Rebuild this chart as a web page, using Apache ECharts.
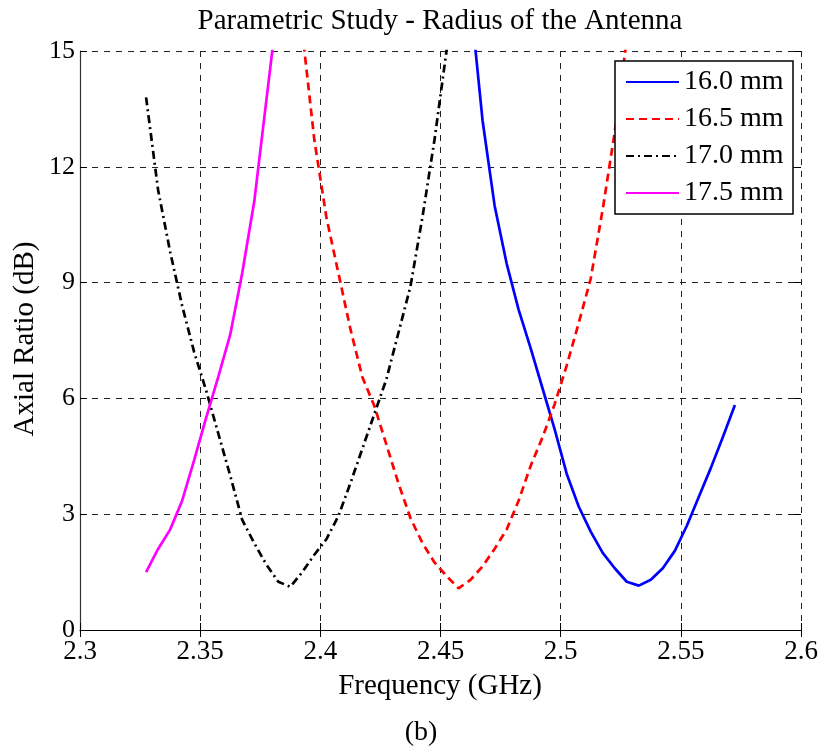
<!DOCTYPE html>
<html>
<head>
<meta charset="utf-8">
<script src="https://cdn.jsdelivr.net/npm/echarts@6/dist/echarts.min.js"></script>
<style>html,body{margin:0;padding:0;background:#fff}#c{width:821px;height:749px}</style>
</head>
<body>
<div id="c"></div>
<script>
// ---- data ----
const seriesNames = ['16.0 mm', '16.5 mm', '17.0 mm', '17.5 mm'];
const xTicks = [2.3, 2.35, 2.4, 2.45, 2.5, 2.55, 2.6];
const yTicks = [0, 3, 6, 9, 12, 15];

const freq160 = [2.4625, 2.4675, 2.4725, 2.4775, 2.4825, 2.4875, 2.4925, 2.4975, 2.5025, 2.5075, 2.5125, 2.5175, 2.5225, 2.5275, 2.5325, 2.5375, 2.5425, 2.5475, 2.5525, 2.5575, 2.5625, 2.5675, 2.5725];
const ar160 = [16.3, 13.2, 11.0, 9.5, 8.3, 7.3, 6.25, 5.2, 4.05, 3.2, 2.55, 2.0, 1.6, 1.25, 1.15, 1.3, 1.6, 2.05, 2.7, 3.45, 4.2, 5.0, 5.83];

const freq165 = [2.3875, 2.3925, 2.3975, 2.4025, 2.4075, 2.4125, 2.4175, 2.4225, 2.4275, 2.4325, 2.4375, 2.4425, 2.4475, 2.4525, 2.4575, 2.4625, 2.4675, 2.4725, 2.4775, 2.4825, 2.4875, 2.4925, 2.4975, 2.5025, 2.5075, 2.5125, 2.5175, 2.5225, 2.5275, 2.5325];
const ar165 = [18.2, 15.5, 12.7, 10.7, 9.25, 7.8, 6.55, 5.8, 4.8, 3.8, 2.9, 2.25, 1.75, 1.4, 1.08, 1.3, 1.65, 2.1, 2.6, 3.35, 4.25, 5.0, 5.85, 6.85, 7.95, 9.1, 10.9, 12.9, 15.3, 17.8];

const freq170 = [2.3275, 2.3325, 2.3375, 2.3425, 2.3475, 2.3525, 2.3575, 2.3625, 2.3675, 2.3725, 2.3775, 2.3825, 2.3875, 2.3925, 2.3975, 2.4025, 2.4075, 2.4125, 2.4175, 2.4225, 2.4275, 2.4325, 2.4375, 2.4425, 2.4475, 2.4525, 2.4575];
const ar170 = [13.8, 11.4, 9.8, 8.4, 7.2, 6.2, 5.1, 4.0, 2.85, 2.25, 1.7, 1.25, 1.12, 1.5, 1.95, 2.35, 2.95, 3.8, 4.7, 5.6, 6.5, 7.7, 8.9, 10.7, 12.7, 15.0, 17.3];

const freq175 = [2.3275, 2.3325, 2.3375, 2.3425, 2.3475, 2.3525, 2.3575, 2.3625, 2.3675, 2.3725, 2.3775, 2.3825];
const ar175 = [1.5, 2.1, 2.6, 3.35, 4.4, 5.5, 6.55, 7.65, 9.25, 11.1, 13.7, 16.3];

// ---- chart ----
const FONT = '"Liberation Serif", "Times New Roman", serif';
const pair = (xs, ys) => xs.map((x, i) => [x, ys[i]]);
const chart = echarts.init(document.getElementById('c'), null, {renderer: 'canvas'});

function lineSeries(name, xs, ys, color, type) {
  return {
    name: name, type: 'line', data: pair(xs, ys), xAxisIndex: 0, yAxisIndex: 0,
    showSymbol: false, symbol: 'none', smooth: false, clip: true,
    lineStyle: {color: color, width: 2.7, type: type},
    itemStyle: {color: color}
  };
}

const gridLine = {show: true, lineStyle: {color: '#222', width: 1, type: [6, 6]}};
const xBase = {type: 'value', min: xTicks[0], max: xTicks[xTicks.length - 1], interval: 0.05};
const yBase = {type: 'value', min: yTicks[0], max: yTicks[yTicks.length - 1], interval: 3};

chart.setOption({
  animation: false,
  backgroundColor: '#fff',
  grid: {left: 80, right: 20, top: 51, bottom: 119, containLabel: false},
  xAxis: [
    Object.assign({}, xBase, {
      position: 'bottom',
      axisLine: {show: true, lineStyle: {color: '#000', width: 1.2}},
      axisTick: {show: true, inside: true, length: 7, lineStyle: {color: '#000'}},
      axisLabel: {show: true, fontSize: 27, fontFamily: FONT, color: '#000', margin: 8,
        formatter: v => String(Math.round(v * 100) / 100)},
      splitLine: gridLine
    }),
    Object.assign({}, xBase, {
      position: 'top',
      axisLine: {show: false},
      axisTick: {show: true, inside: true, length: 7, lineStyle: {color: '#000'}},
      axisLabel: {show: false},
      splitLine: {show: false}
    })
  ],
  yAxis: [
    Object.assign({}, yBase, {
      position: 'left',
      axisLine: {show: true, lineStyle: {color: '#333', width: 1.2}},
      axisTick: {show: true, inside: true, length: 7, lineStyle: {color: '#000'}},
      axisLabel: {show: true, fontSize: 26, fontFamily: FONT, color: '#000', margin: 5},
      splitLine: gridLine
    }),
    Object.assign({}, yBase, {
      position: 'right',
      axisLine: {show: false},
      axisTick: {show: true, inside: true, length: 7, lineStyle: {color: '#000'}},
      axisLabel: {show: false},
      splitLine: {show: false}
    })
  ],
  legend: {
    show: true, orient: 'vertical', left: 615, top: 61,
    data: seriesNames,
    padding: [7, 7, 7, 10], itemGap: 9, itemWidth: 53, itemHeight: 14,
    itemStyle: {opacity: 0, borderWidth: 0},
    backgroundColor: '#fff', borderColor: '#000', borderWidth: 1.5, borderRadius: 0,
    textStyle: {fontSize: 28, fontFamily: FONT, color: '#000', lineHeight: 28, width: 102}
  },
  series: [
    lineSeries(seriesNames[0], freq160, ar160, '#0000ff', 'solid'),
    lineSeries(seriesNames[1], freq165, ar165, '#ff0000', [8, 5]),
    lineSeries(seriesNames[2], freq170, ar170, '#000000', [8, 4, 2, 4]),
    lineSeries(seriesNames[3], freq175, ar175, '#ff00ff', 'solid')
  ],
  graphic: [
    {type: 'text', x: 440, y: 21, style: {text: 'Parametric Study - Radius of the Antenna', fontSize: 29, fontFamily: FONT, fill: '#000', textAlign: 'center', textVerticalAlign: 'middle'}},
    {type: 'text', x: 440, y: 686, style: {text: 'Frequency (GHz)', fontSize: 29, fontFamily: FONT, fill: '#000', textAlign: 'center', textVerticalAlign: 'middle'}},
    {type: 'text', x: 421, y: 733, style: {text: '(b)', fontSize: 28, fontFamily: FONT, fill: '#000', textAlign: 'center', textVerticalAlign: 'middle'}},
    {type: 'text', x: 25, y: 339, rotation: Math.PI / 2, style: {text: 'Axial Ratio (dB)', fontSize: 29, fontFamily: FONT, fill: '#000', textAlign: 'center', textVerticalAlign: 'middle'}}
  ]
});
</script>
</body>
</html>
